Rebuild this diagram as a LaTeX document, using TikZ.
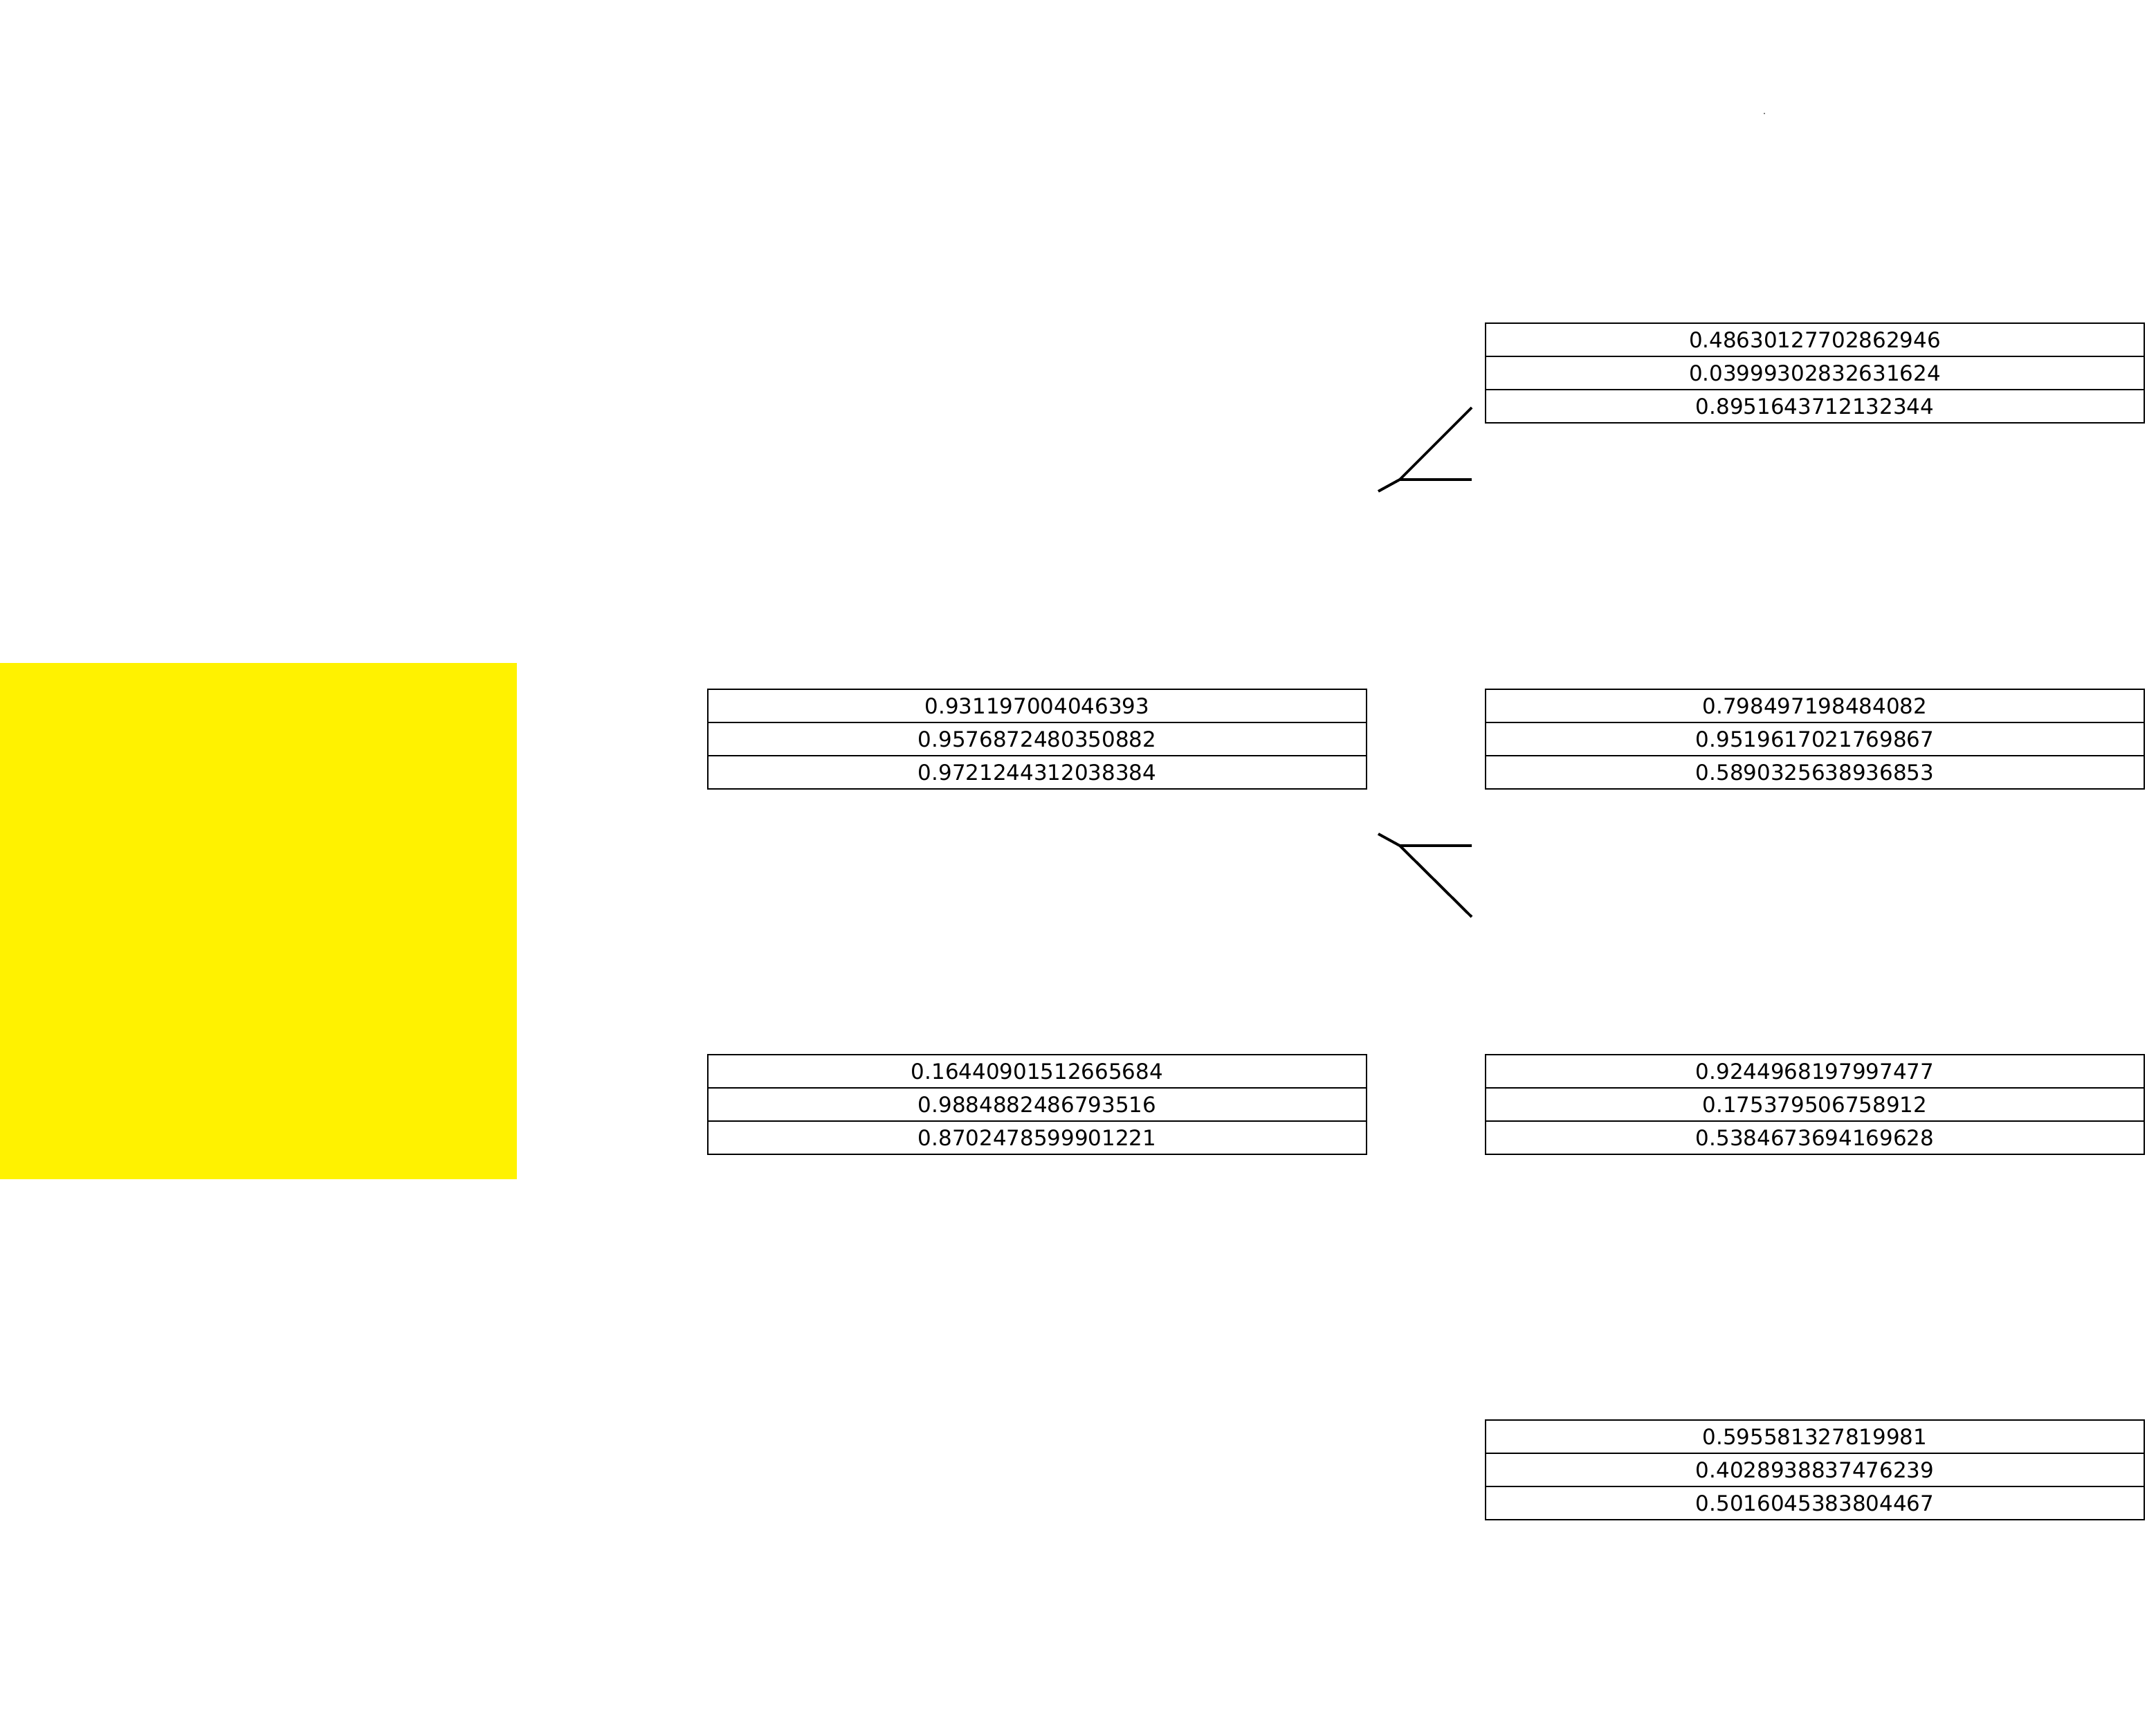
\documentclass[tikz,border=0pt]{standalone}
\usepackage{fontspec}
\setmainfont{DejaVu Sans}
\usepackage{xcolor}
\usepackage{tikz}
\usetikzlibrary{
  positioning,
}

\definecolor{blockyellow}{RGB}{255,242,0}

\begin{document}
\begin{tikzpicture}[
  font=\fontsize{8.8}{10}\selectfont,
  cell/.style={draw, line width=0.7pt, minimum width=9.52cm, minimum height=0.48cm,
    inner sep=0pt, outer sep=0pt},
  link/.style={line width=1.1pt},
]
  % Page: 1cm = 100px
  \useasboundingbox (0,0) rectangle (31.16,24.97);

  % Yellow block
  \fill[blockyellow] (0,7.93) rectangle (7.47,15.39);

  % Stray dot
  \fill[gray] (25.49,23.32) rectangle (25.51,23.34);

  % Value tables (three rows each)
  \foreach \name/\x/\y/\va/\vb/\vc in {
      tA/21.47/20.30/0.48630127702862946/0.03999302832631624/0.8951643712132344,
      tB/10.23/15.01/0.931197004046393/0.9576872480350882/0.9721244312038384,
      tC/21.47/15.01/0.798497198484082/0.9519617021769867/0.5890325638936853,
      tD/10.23/9.73/0.16440901512665684/0.9884882486793516/0.8702478599901221,
      tE/21.47/9.73/0.9244968197997477/0.175379506758912/0.5384673694169628,
      tF/21.47/4.45/0.595581327819981/0.4028938837476239/0.5016045383804467} {
    \node[cell, anchor=north west] (\name-1) at (\x,\y) {\va};
    \node[cell, below=0pt of \name-1] (\name-2) {\vb};
    \node[cell, below=0pt of \name-2] (\name-3) {\vc};
  }

  % Upper fork
  \coordinate (up-in)   at (19.92,17.87);
  \coordinate (up-j)    at (20.23,18.04);
  \coordinate (up-a)    at (21.27,19.08);
  \coordinate (up-b)    at (21.27,18.04);
  \draw[link] (up-in) -- (up-j) -- (up-a);
  \draw[link] (up-j) -- (up-b);

  % Lower fork
  \coordinate (lo-in)   at (19.92,12.92);
  \coordinate (lo-j)    at (20.23,12.75);
  \coordinate (lo-a)    at (21.27,12.75);
  \coordinate (lo-b)    at (21.27,11.72);
  \draw[link] (lo-in) -- (lo-j) -- (lo-a);
  \draw[link] (lo-j) -- (lo-b);

\end{tikzpicture}
\end{document}
